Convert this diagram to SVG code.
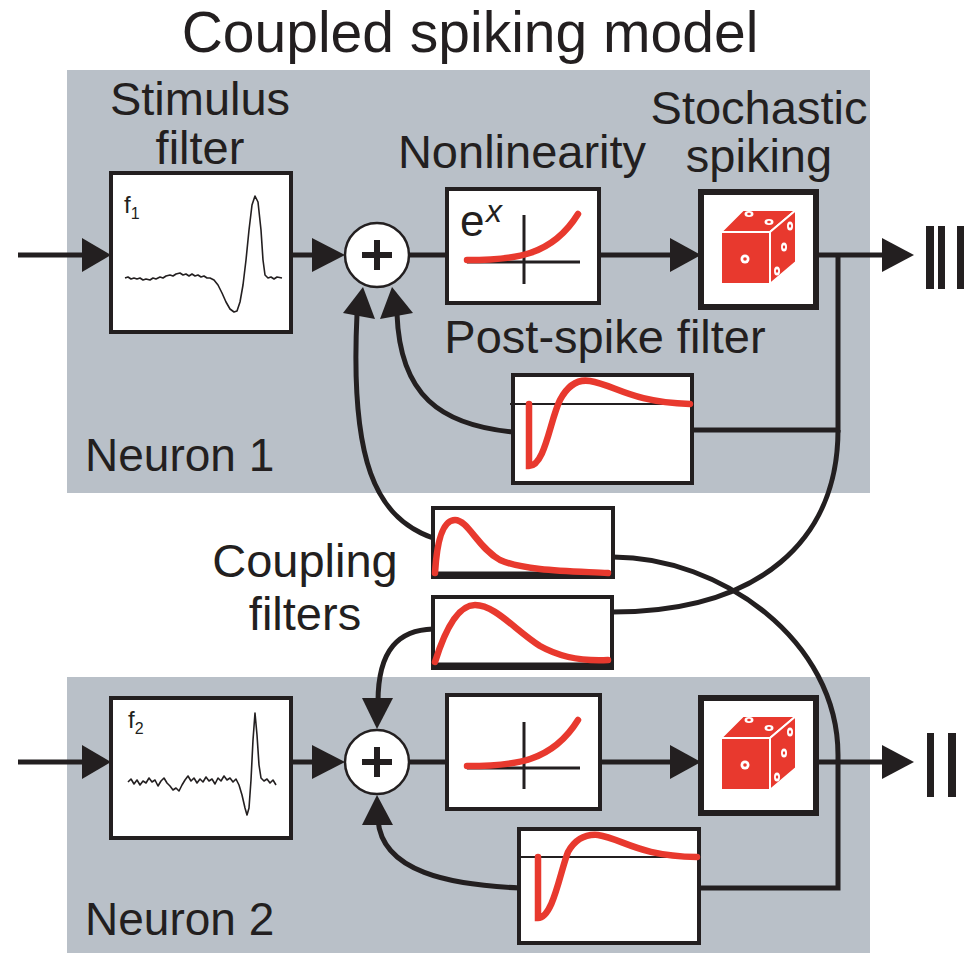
<svg xmlns="http://www.w3.org/2000/svg" width="964" height="953" viewBox="0 0 964 953">
<style>
text{font-family:"Liberation Sans",Arial,sans-serif;fill:#231f20}
.lbl{font-size:47px}
.nl{font-size:46px}
.panel{fill:#b9c0c8}
.box{fill:#fff;stroke:#231f20;stroke-width:4}
.dbox{fill:#fff;stroke:#231f20;stroke-width:6}
.wire{fill:none;stroke:#231f20;stroke-width:5}
.axis{fill:none;stroke:#231f20;stroke-width:3}
.thin{fill:none;stroke:#231f20;stroke-width:2}
.red{fill:none;stroke:#e8392e;stroke-width:6.5;stroke-linecap:round}
.trace{fill:none;stroke:#231f20;stroke-width:1.6;stroke-linejoin:round}
.head{fill:#231f20}
.sum{fill:#fff;stroke:#231f20;stroke-width:2.5}
.plus{stroke:#231f20;stroke-width:6}
.face{fill:#e8392e;stroke:#fff;stroke-width:2;stroke-linejoin:round}
.pip{fill:#fff}
.pipc{fill:#e8392e}
</style>
<defs>
<g id="dice">
<polygon class="face" points="20,40 42,18 95,18 69,40"/>
<polygon class="face" points="69,40 95,18 95,70 69,92"/>
<rect class="face" x="20" y="40" width="49" height="52"/>
<circle class="pip" cx="44" cy="67" r="4.5"/><circle class="pipc" cx="44" cy="67" r="1.8"/>
<ellipse class="pip" cx="48" cy="22" rx="4.5" ry="3"/><ellipse class="pipc" cx="48" cy="22" rx="1.8" ry="1.2"/>
<ellipse class="pip" cx="68" cy="30" rx="4.5" ry="3"/><ellipse class="pipc" cx="68" cy="30" rx="1.8" ry="1.2"/>
<ellipse class="pip" cx="89" cy="34" rx="3" ry="4.5"/><ellipse class="pipc" cx="89" cy="34" rx="1.2" ry="1.8"/>
<ellipse class="pip" cx="83" cy="55" rx="3" ry="4.5"/><ellipse class="pipc" cx="83" cy="55" rx="1.2" ry="1.8"/>
<ellipse class="pip" cx="76" cy="79" rx="3" ry="4.5"/><ellipse class="pipc" cx="76" cy="79" rx="1.2" ry="1.8"/>
</g>
</defs>

<rect width="964" height="953" fill="#fff"/>
<text x="470" y="52" font-size="57" text-anchor="middle">Coupled spiking model</text>

<g id="neuron1-panel">
<rect class="panel" x="67" y="70" width="803" height="423"/>
<text class="nl" x="85" y="471">Neuron 1</text>
</g>
<g id="neuron2-panel">
<rect class="panel" x="67" y="677" width="803" height="276"/>
<text class="nl" x="85" y="935">Neuron 2</text>
</g>

<g id="connectors">
<line class="wire" x1="18" y1="255" x2="90" y2="255"/>
<polygon class="head" points="82,238 111,255 82,272"/>
<line class="wire" x1="291" y1="255" x2="320" y2="255"/>
<polygon class="head" points="312,238 345,255 312,272"/>
<line class="wire" x1="409" y1="255" x2="447" y2="255"/>
<line class="wire" x1="599" y1="255" x2="680" y2="255"/>
<polygon class="head" points="670,238 701,255 670,272"/>
<line class="wire" x1="816" y1="255" x2="890" y2="255"/>
<polygon class="head" points="882,238 914,255 882,272"/>
<path class="wire" d="M838,255 L838,430 L692,430"/>
<path class="wire" d="M838,430 C838,540 760,612 612,612"/>
<path class="wire" d="M513,432 C440,425 400,395 397,314"/>
<polygon class="head" points="380,319 392,287 413,313"/>
<path class="wire" d="M433,538 C375,518 350,460 357,314"/>
<polygon class="head" points="343,313 363,287 375,319"/>
<line class="wire" x1="18" y1="762" x2="90" y2="762"/>
<polygon class="head" points="82,745 111,762 82,779"/>
<line class="wire" x1="291" y1="762" x2="320" y2="762"/>
<polygon class="head" points="312,745 345,762 312,779"/>
<line class="wire" x1="409" y1="762" x2="447" y2="762"/>
<line class="wire" x1="600" y1="762" x2="680" y2="762"/>
<polygon class="head" points="670,745 701,762 670,779"/>
<line class="wire" x1="816" y1="762" x2="890" y2="762"/>
<polygon class="head" points="882,745 914,762 882,779"/>
<path class="wire" d="M613,557 C720,557 838,640 838,755 L838,888 L701,888"/>
<path class="wire" d="M433,629 C400,630 378,648 378,702"/>
<polygon class="head" points="362,698 377,729 393,698"/>
<path class="wire" d="M520,888 C450,885 382,872 378,820"/>
<polygon class="head" points="362,825 377,795 393,825"/>
</g>

<g id="stimulus-filter-1">
<text class="lbl" x="200" y="115" text-anchor="middle">Stimulus</text>
<text class="lbl" x="200" y="164" text-anchor="middle">filter</text>
<rect class="box" x="111" y="173" width="180" height="159"/>
<text x="124" y="213" font-size="24">f<tspan font-size="16" dy="6">1</tspan></text>
<polyline class="trace" points="125,278 128,277 131,279 134,278 137,279 140,278 143,280 146,279 150,280 153,278 156,279 160,277 163,278 166,276 170,275 173,276 176,274 180,273 183,275 186,274 189,276 192,274 195,276 198,275 201,277 204,276 207,278 210,278 214,280 218,285 222,293 226,302 230,309 234,312 237,311 240,302 243,285 246,260 249,230 252,205 255,196 258,202 261,230 263,260 265,275 268,278 271,277 274,279 277,277 282,278"/>
</g>

<g id="stimulus-filter-2">
<rect class="box" x="111" y="698" width="180" height="140"/>
<text x="128" y="728" font-size="24">f<tspan font-size="16" dy="6">2</tspan></text>
<polyline class="trace" points="128,782 131,779 134,784 137,780 140,785 143,781 146,783 149,778 152,782 155,780 158,786 161,781 164,778 167,783 170,786 173,790 176,788 179,791 182,785 185,780 188,776 191,781 194,778 197,783 200,779 203,782 206,777 209,781 212,779 215,784 218,778 221,781 224,776 227,780 230,778 233,782 236,779 239,785 242,795 245,808 247,815 249,808 251,780 253,740 255,713 257,735 259,765 261,778 264,781 267,779 270,783 273,780 276,785"/>
</g>

<g id="sum-1">
<circle class="sum" cx="377" cy="255" r="32"/>
<line class="plus" x1="362" y1="255" x2="392" y2="255"/>
<line class="plus" x1="377" y1="240" x2="377" y2="270"/>
</g>
<g id="sum-2">
<circle class="sum" cx="377" cy="762" r="32"/>
<line class="plus" x1="362" y1="762" x2="392" y2="762"/>
<line class="plus" x1="377" y1="747" x2="377" y2="777"/>
</g>

<g id="nonlinearity-1">
<text class="lbl" x="522" y="168" text-anchor="middle">Nonlinearity</text>
<rect class="box" x="447" y="189" width="152" height="114"/>
<text x="460" y="236" font-size="44">e</text>
<text x="486" y="222" font-size="32" font-style="italic">x</text>
<line class="axis" x1="524" y1="215" x2="524" y2="284"/>
<line class="axis" x1="467" y1="262" x2="580" y2="262"/>
<path class="red" d="M467,260 C515,260 552,256 578,214"/>
</g>
<g id="nonlinearity-2">
<rect class="box" x="447" y="695" width="153" height="114"/>
<line class="axis" x1="524" y1="722" x2="524" y2="789"/>
<line class="axis" x1="467" y1="768" x2="580" y2="768"/>
<path class="red" d="M467,766 C515,766 552,762 578,720"/>
</g>

<g id="stochastic-spiking-1">
<text class="lbl" x="759" y="124" text-anchor="middle">Stochastic</text>
<text class="lbl" x="759" y="172" text-anchor="middle">spiking</text>
<rect class="dbox" x="701" y="192" width="115" height="115"/>
<use href="#dice" x="701" y="192"/>
</g>
<g id="stochastic-spiking-2">
<rect class="dbox" x="701" y="698" width="115" height="115"/>
<use href="#dice" x="701" y="698"/>
</g>

<g id="spikes-1">
<rect class="head" x="926" y="226" width="8" height="63"/>
<rect class="head" x="938" y="226" width="7" height="63"/>
<rect class="head" x="957" y="226" width="8" height="63"/>
</g>
<g id="spikes-2">
<rect class="head" x="927" y="733" width="7" height="64"/>
<rect class="head" x="948" y="733" width="8" height="64"/>
</g>

<g id="post-spike-filter-1">
<text class="lbl" x="605" y="353" text-anchor="middle">Post-spike filter</text>
<rect class="box" x="513" y="375" width="179" height="108"/>
<line class="thin" x1="510" y1="404" x2="692" y2="404"/>
<path class="red" d="M529,404 L529,466 C545,466 550,420 560,400 C568,385 578,379 590,381 C615,385 630,402 690,404"/>
</g>
<g id="post-spike-filter-2">
<rect class="box" x="519" y="829" width="180" height="114"/>
<line class="thin" x1="519" y1="857" x2="699" y2="857"/>
<path class="red" d="M538,857 L538,918 C553,918 560,872 568,852 C576,838 586,834 598,835 C623,839 638,856 697,857"/>
</g>

<g id="coupling-filters">
<text class="lbl" x="305" y="577" text-anchor="middle">Coupling</text>
<text class="lbl" x="305" y="630" text-anchor="middle">filters</text>
</g>
<g id="coupling-filter-1">
<rect class="box" x="433" y="508" width="180" height="69"/>
<line class="wire" x1="433" y1="574" x2="613" y2="574"/>
<path class="red" d="M435,573 C437,540 443,520 455,520 C468,520 478,548 500,560 C525,571 570,571 608,573"/>
</g>
<g id="coupling-filter-2">
<rect class="box" x="433" y="597" width="179" height="71"/>
<line class="wire" x1="433" y1="665" x2="612" y2="665"/>
<path class="red" d="M435,662 C445,630 458,605 475,605 C495,605 515,630 540,646 C565,660 590,661 608,660"/>
</g>
</svg>
